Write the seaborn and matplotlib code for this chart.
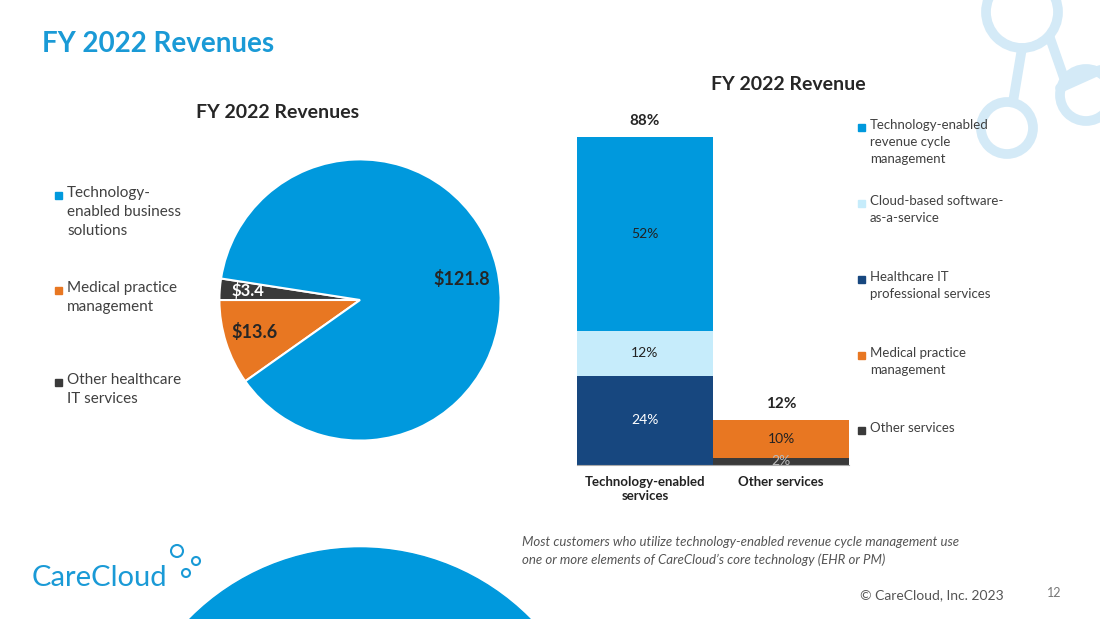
import matplotlib
matplotlib.use('Agg')
import matplotlib.pyplot as plt
import seaborn as sns
from matplotlib.patches import Circle, Rectangle

sns.set_style('white')
plt.rcParams['font.family'] = ['Lato', 'DejaVu Sans']

# --- data ---
pie_labels = ['Technology-\nenabled business\nsolutions', 'Medical practice\nmanagement', 'Other healthcare\nIT services']
pie_values = [121.8, 13.6, 3.4]
pie_colors = ['#0099dd', '#e87722', '#3a3a3a']

bar_cats = ['Technology-enabled\nservices', 'Other services']
bar_totals = [88, 12]
bar_series = ['Technology-enabled\nrevenue cycle\nmanagement', 'Cloud-based software-\nas-a-service',
              'Healthcare IT\nprofessional services', 'Medical practice\nmanagement', 'Other services']
bar_colors = ['#0099dd', '#c6ecfb', '#17477f', '#e87722', '#3a3a3a']
# stacked segments bottom-up: (series index, value)
tech_stack = [(2, 24), (1, 12), (0, 52)]
other_stack = [(4, 2), (3, 10)]

W, H = 1100, 619
fig = plt.figure(figsize=(11, 6.19), dpi=100)
fig.patch.set_facecolor('white')

def fx(x): return x / W
def fy(y): return 1 - y / H

# decorations
deco = fig.add_axes([0, 0, 1, 1], zorder=0)
deco.set_xlim(0, W); deco.set_ylim(H, 0); deco.axis('off')
deco.add_patch(Circle((360, 787), 239, color='#0099dd'))
lc = '#d4eaf7'
for (cx, cy, r) in [(1022, 12, 36), (1086, 95, 26), (1007, 128, 26)]:
    deco.add_patch(Circle((cx, cy), r, fill=False, ec=lc, lw=7))
deco.plot([1050, 1064], [38, 78], color=lc, lw=7)
deco.plot([1060, 1100], [88, 70], color=lc, lw=7)
deco.plot([1022, 1013], [48, 102], color=lc, lw=7)

fig.text(fx(42), fy(44), 'FY 2022 Revenues', color='#1a9ad6', fontsize=20, fontweight='bold', va='center')

# --- pie ---
r = 142
pax = fig.add_axes([fx(360 - r), fy(300 + r), 2 * r / W, 2 * r / H])
order = [2, 1, 0]
pax.pie([pie_values[i] for i in order], colors=[pie_colors[i] for i in order],
        startangle=171.2, counterclock=True,
        wedgeprops=dict(edgecolor='white', linewidth=1.5))
pax.set_aspect('auto')
pax.set_xlim(-1.01, 1.01); pax.set_ylim(-1.01, 1.01)
pax.text(0.72, 0.15, '$121.8', fontsize=13, fontweight='bold', ha='center', va='center')
pax.text(-0.75, -0.23, '$13.6', fontsize=13, fontweight='bold', ha='center', va='center')
pax.text(-0.8, 0.07, '$3.4', fontsize=12, fontweight='bold', color='white', ha='center', va='center')
fig.text(fx(278), fy(113), 'FY 2022 Revenues', fontsize=14, fontweight='bold', ha='center', va='center')
for lab, col, y in zip(pie_labels, pie_colors, [195, 290, 382]):
    fig.patches.append(Rectangle((fx(55), fy(y + 4)), 7 / W, 7 / H, color=col, transform=fig.transFigure))
    fig.text(fx(67), fy(y - 9), lab, fontsize=11, color='#404040', va='top', linespacing=1.45)

# --- stacked bar ---
top_px, bot_px = 100, 465
ymax = (bot_px - top_px) / ((bot_px - 137) / 88)
bax = fig.add_axes([fx(577), fy(bot_px), (849 - 577) / W, (bot_px - top_px) / H])
for ci, stack in enumerate([tech_stack, other_stack]):
    bottom = 0
    for si, v in stack:
        sns.barplot(x=[bar_cats[ci]], y=[v], order=bar_cats, bottom=bottom, color=bar_colors[si],
                    width=1, saturation=1, ax=bax, linewidth=0)
        tc = 'white' if si == 2 else ('#bbbbbb' if si == 4 else '#222222')
        bax.text(ci, bottom + v / 2, f'{v}%', ha='center', va='center', fontsize=10, color=tc)
        bottom += v
    bax.text(ci, bar_totals[ci] + 2.5, f'{bar_totals[ci]}%', ha='center', va='bottom', fontsize=11, fontweight='bold')
bax.set_xlim(-0.5, 1.5); bax.set_ylim(0, ymax)
bax.set_yticks([]); bax.set_xlabel(''); bax.set_ylabel('')
for s in ['top', 'right', 'left']:
    bax.spines[s].set_visible(False)
bax.spines['bottom'].set_color('#aaaaaa')
bax.tick_params(axis='x', length=0, pad=8)
for t in bax.get_xticklabels():
    t.set_fontweight('bold'); t.set_fontsize(9.5); t.set_color('#222222')
fig.text(fx(788), fy(84), 'FY 2022 Revenue', fontsize=14, fontweight='bold', ha='center', va='center')
for lab, col, y in zip(bar_series, bar_colors, [127, 203, 279, 355, 430]):
    fig.patches.append(Rectangle((fx(858), fy(y + 4)), 7 / W, 7 / H, color=col, transform=fig.transFigure))
    fig.text(fx(870), fy(y - 8), lab, fontsize=9.5, color='#404040', va='top', linespacing=1.5)

# footer
fig.text(fx(522), fy(551), 'Most customers who utilize technology-enabled revenue cycle management use\n'
         'one or more elements of CareCloud\u2019s core technology (EHR or PM)',
         fontsize=9.5, style='italic', color='#555555', va='center', linespacing=1.5)
fig.text(fx(860), fy(595), '\u00a9 CareCloud, Inc. 2023', fontsize=10, color='#555555', va='center')
fig.text(fx(1047), fy(593), '12', fontsize=9, color='#777777', va='center')
fig.text(fx(32), fy(578), 'CareCloud', fontsize=21, color='#1a9ad6', va='center')
for (cx, cy, rr) in [(177, 551, 6), (196, 561, 4), (186, 573, 4)]:
    deco.add_patch(Circle((cx, cy), rr, fill=False, ec='#1a9ad6', lw=1.5))

fig.savefig('out.png', dpi=100)
